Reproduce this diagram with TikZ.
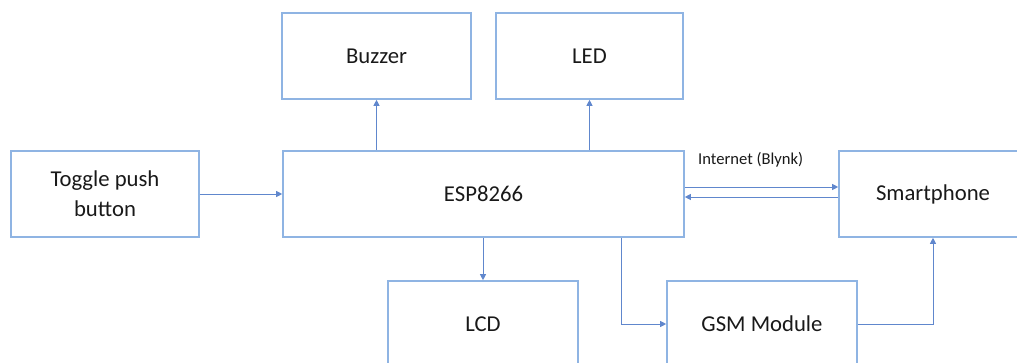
\documentclass[tikz,border=0pt]{standalone}
\usepackage{fontspec}
\setmainfont{Carlito}
\usetikzlibrary{arrows.meta}
\definecolor{boxblue}{RGB}{143,180,227}
\definecolor{arrblue}{RGB}{68,114,196}
\begin{document}
\begin{tikzpicture}[x=1pt,y=-1pt,
  blk/.style={draw=boxblue,line width=1.6pt,minimum width=188pt,minimum height=86pt,inner sep=0pt,
    font=\fontsize{22.7}{30}\selectfont,align=center,text=black!90},
  arr/.style={draw=arrblue!85,line width=0.9pt,-{Triangle[length=6pt,width=6pt]}},
  lbl/.style={font=\fontsize{16.6}{20}\selectfont,text=black!90,inner sep=0pt}]
\useasboundingbox (0,0) rectangle (1017,363);
\clip (0,0) rectangle (1017,363);
\node[blk] (toggle) at (105,194) {Toggle push\\button};
\node[blk,minimum width=401pt] (esp) at (483.5,194) {ESP8266};
\node[blk,minimum width=189pt] (buzzer) at (376.5,56) {Buzzer};
\node[blk,minimum width=187pt] (led) at (589.5,56) {LED};
\node[blk] (phone) at (933,194) {Smartphone};
\node[blk,minimum width=190pt] (lcd) at (483,324) {LCD};
\node[blk,minimum width=190pt] (gsm) at (762,324) {GSM Module};
\node[lbl,anchor=west] (inet) at (698,160) {Internet (Blynk)};
\draw[arr] (esp.north -| buzzer) -- (buzzer.south);
\draw[arr] (esp.north -| led) -- (led.south);
\draw[arr] (toggle.east) -- (esp.west);
\draw[arr] ([yshift=7pt]esp.east) -- ([yshift=7pt]esp.east -| phone.west);
\draw[arr] ([yshift=-3pt]esp.east -| phone.west) -- ([yshift=-3pt]esp.east);
\draw[arr] (esp.south -| lcd) -- (lcd.north);
\draw[arr] ([xshift=137.5pt]esp.south) |- (gsm.west);
\draw[arr] (gsm.east) -| (phone.south);
\end{tikzpicture}
\end{document}
